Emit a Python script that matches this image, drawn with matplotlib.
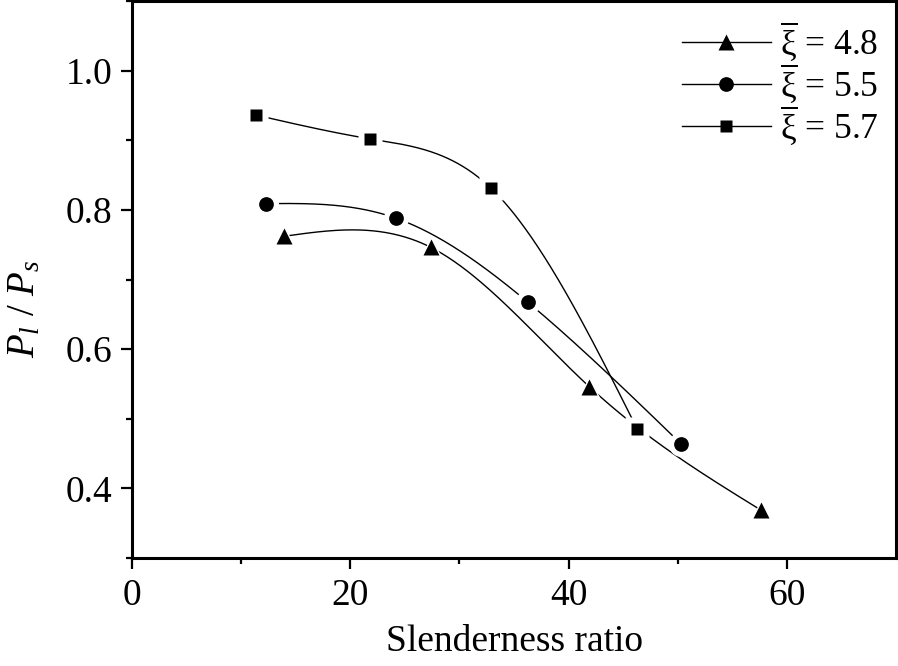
import numpy as np
import matplotlib
matplotlib.use("Agg")
import matplotlib.pyplot as plt
from matplotlib.lines import Line2D

plt.rcParams["font.family"] = "Liberation Serif"
plt.rcParams["mathtext.fontset"] = "custom"
plt.rcParams["mathtext.rm"] = "Liberation Serif"
plt.rcParams["mathtext.it"] = "Liberation Serif:italic"

# values
x_48 = [13.9, 27.4, 41.9, 57.6]
y_48 = [0.762, 0.746, 0.546, 0.369]
x_55 = [12.3, 24.2, 36.3, 50.3]
y_55 = [0.809, 0.788, 0.667, 0.464]
x_57 = [11.4, 21.8, 32.9, 46.3]
y_57 = [0.936, 0.902, 0.831, 0.485]
labels = [r"$\overline{\mathrm{\xi}}$ = 4.8",
          r"$\overline{\mathrm{\xi}}$ = 5.5",
          r"$\overline{\mathrm{\xi}}$ = 5.7"]
xticks = [0, 20, 40, 60]
yticks = [0.4, 0.6, 0.8, 1.0]


def spline(x, y, n=300):
    # natural cubic spline, like Origin's "spline" connection
    x = np.asarray(x, float)
    y = np.asarray(y, float)
    h = np.diff(x)
    m = len(x)
    A = np.zeros((m, m))
    b = np.zeros(m)
    A[0, 0] = A[-1, -1] = 1.0
    for i in range(1, m - 1):
        A[i, i - 1] = h[i - 1]
        A[i, i] = 2 * (h[i - 1] + h[i])
        A[i, i + 1] = h[i]
        b[i] = 6 * ((y[i + 1] - y[i]) / h[i] - (y[i] - y[i - 1]) / h[i - 1])
    M = np.linalg.solve(A, b)
    xs = np.linspace(x[0], x[-1], n)
    k = np.clip(np.searchsorted(x, xs) - 1, 0, m - 2)
    t0 = x[k + 1] - xs
    t1 = xs - x[k]
    hk = h[k]
    ys = (M[k] * t0 ** 3 / (6 * hk) + M[k + 1] * t1 ** 3 / (6 * hk)
          + (y[k] / hk - M[k] * hk / 6) * t0
          + (y[k + 1] / hk - M[k + 1] * hk / 6) * t1)
    return xs, ys


fig = plt.figure(figsize=(8.98, 6.66), dpi=100)
ax = fig.add_axes([132 / 898, 108 / 666, 764 / 898, 557 / 666])

series = [(x_48, y_48, "^", 11.5, 16.5),
          (x_55, y_55, "o", 10.6, 18.0),
          (x_57, y_57, "s", 8.9, 17.5)]

for xv, yv, mk, ms, halo in series:
    xs, ys = spline(xv, yv)
    ax.plot(xs, ys, color="black", lw=1.0, zorder=2)
for xv, yv, mk, ms, halo in series:
    ax.plot(xv, yv, ls="none", marker=mk, ms=halo, color="white",
            mec="none", zorder=3)
for xv, yv, mk, ms, halo in series:
    ax.plot(xv, yv, ls="none", marker=mk, ms=ms, color="black",
            mec="none", zorder=4)

ax.set_xlim(0, 70)
ax.set_ylim(0.3, 1.1)
ax.set_xticks(xticks)
ax.set_yticks(yticks)
ax.set_xticks(np.arange(10, 70, 20), minor=True)
ax.set_yticks([0.3, 0.5, 0.7, 0.9, 1.1], minor=True)
ax.set_yticklabels([f"{v:.1f}" for v in yticks])

for s in ax.spines.values():
    s.set_linewidth(2.2)
ax.tick_params(which="major", direction="out", length=8, width=1.6,
               labelsize=27, pad=6, top=True, right=True)
ax.tick_params(which="minor", direction="out", length=4, width=1.6,
               top=True, right=True)
ax.tick_params(axis="x", which="major", pad=7)

ax.set_xlabel("Slenderness ratio", fontsize=27, labelpad=8)
fig.text(25 / 898, 1 - 309 / 666, r"$P_l$ / $P_s$", rotation=90,
         fontsize=28, ha="center", va="center")

handles = [Line2D([], [], color="black", lw=1.0, marker=mk, ms=ms, mec="none")
           for _, _, mk, ms, _ in series]
ax.legend(handles, labels, loc="upper right", frameon=False, fontsize=25.5,
          handlelength=2.5, handletextpad=0.25, labelspacing=-0.05,
          borderaxespad=0.2, borderpad=0.3, numpoints=1)

fig.savefig("out.png", dpi=100)
